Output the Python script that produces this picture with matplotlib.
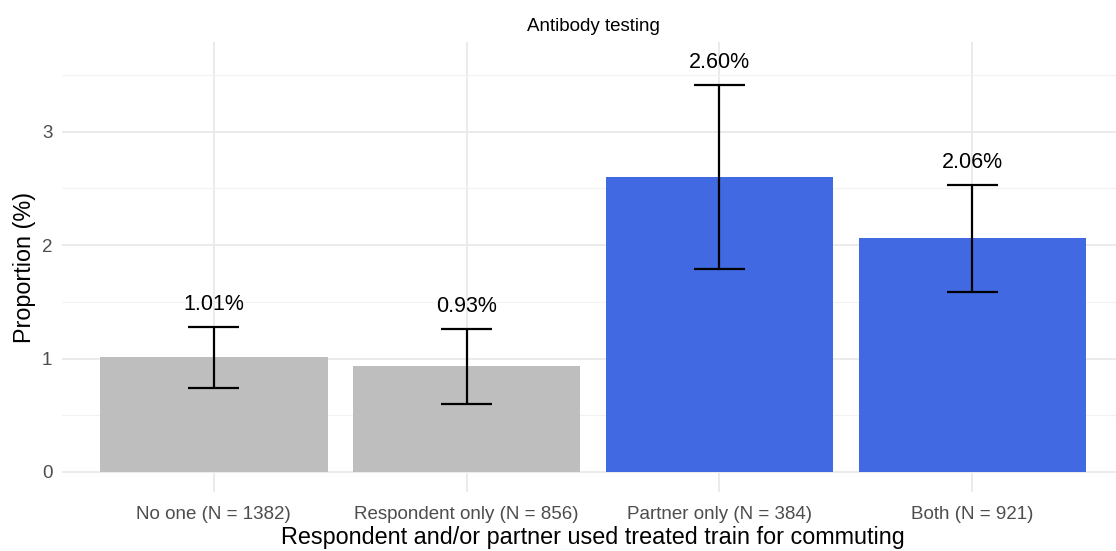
import matplotlib
matplotlib.use("Agg")
import matplotlib.pyplot as plt
import numpy as np

categories = ["No one (N = 1382)", "Respondent only (N = 856)",
              "Partner only (N = 384)", "Both (N = 921)"]
proportion = [1.01, 0.93, 2.60, 2.06]
ci_lower = [0.74, 0.60, 1.79, 1.59]
ci_upper = [1.28, 1.26, 3.41, 2.53]
labels = ["1.01%", "0.93%", "2.60%", "2.06%"]
bar_colors = ["#BEBEBE", "#BEBEBE", "#4169E1", "#4169E1"]

plt.rcParams['font.family'] = ['Liberation Sans', 'DejaVu Sans']

W, H = 1116, 551
fig = plt.figure(figsize=(W / 100, H / 100), dpi=100)
left, right, top, bottom = 62, 1124, 42, 492
ax = fig.add_axes([left / W, 1 - bottom / H, (right - left) / W, (bottom - top) / H])

x = np.arange(1, len(categories) + 1)
ax.bar(x, proportion, width=0.9, color=bar_colors, zorder=2)
ax.errorbar(x, proportion,
            yerr=[np.array(proportion) - np.array(ci_lower),
                  np.array(ci_upper) - np.array(proportion)],
            fmt='none', ecolor='black', elinewidth=1.6, capsize=0, zorder=3)
for xi, lo, hi in zip(x, ci_lower, ci_upper):
    ax.hlines([lo, hi], xi - 0.1, xi + 0.1, color='black', linewidth=1.6, zorder=3)
for xi, hi, lab in zip(x, ci_upper, labels):
    ax.text(xi, hi + 0.2, lab, ha='center', va='center', fontsize=15.5, color='black', zorder=4)

ax.set_xlim(0.4, 4.6)
ax.set_ylim(-0.177, 3.792)
ax.set_xticks(x)
ax.set_xticklabels(categories)
ax.set_yticks([0, 1, 2, 3])
ax.set_yticks([0.5, 1.5, 2.5, 3.5], minor=True)
ax.tick_params(axis='both', which='both', length=0, labelsize=13.5, labelcolor='#4D4D4D')
ax.tick_params(axis='x', pad=10)
ax.tick_params(axis='y', pad=7)

ax.grid(True, which='major', color='#EBEBEB', linewidth=1.4, zorder=0)
ax.grid(True, which='minor', axis='y', color='#F2F2F2', linewidth=0.9, zorder=0)
ax.set_axisbelow(True)
for s in ax.spines.values():
    s.set_visible(False)

ax.set_xlabel("Respondent and/or partner used treated train for commuting", fontsize=16.8, labelpad=2)
ax.set_ylabel("Proportion (%)", fontsize=16.8, labelpad=4)
ax.set_title("Antibody testing", fontsize=13.5, pad=8)

fig.savefig("out.png", dpi=100)
